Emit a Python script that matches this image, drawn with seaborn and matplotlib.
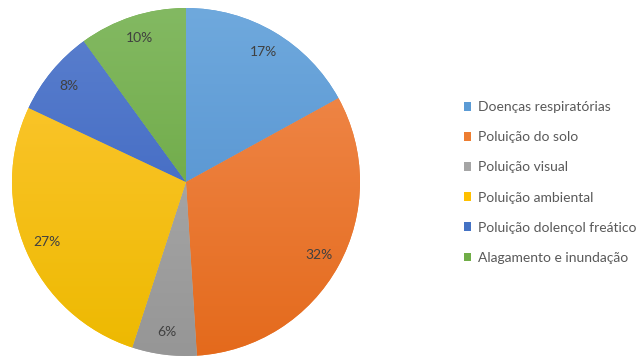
import numpy as np
import matplotlib
matplotlib.use("Agg")
import matplotlib.pyplot as plt
from matplotlib.patches import Patch
from matplotlib.colors import LinearSegmentedColormap
import seaborn as sns

categories = [
    "Doenças respiratórias",
    "Poluição do solo",
    "Poluição visual",
    "Poluição ambiental",
    "Poluição dolençol freático",
    "Alagamento e inundação",
]
shares = [17, 32, 6, 27, 8, 10]
base_colors = ["#5B9BD5", "#ED7D31", "#A5A5A5", "#FFC000", "#4472C4", "#70AD47"]
top_colors = ["#6FA9DD", "#F28D52", "#B2B2B2", "#FFC838", "#5B80CE", "#83B962"]
bottom_colors = ["#4A89CB", "#E46A1C", "#969696", "#EDB900", "#355FBE", "#62A136"]

sns.set_style("white")
plt.rcParams["font.family"] = ["Lato", "DejaVu Sans"]

fig = plt.figure(figsize=(6.44, 3.59), dpi=100)
ax = fig.add_axes([186 / 644 - 174 / 644, 177 / 359 - 174 / 359, 348 / 644, 348 / 359])

palette = sns.color_palette(base_colors)
wedges, texts, autotexts = ax.pie(
    shares,
    colors=palette,
    startangle=90,
    counterclock=False,
    autopct=lambda p: f"{p:.0f}%",
    pctdistance=0.87,
    wedgeprops=dict(linewidth=0),
    textprops=dict(color="#404040", fontsize=10),
)
ax.set_xlim(-1, 1)
ax.set_ylim(-1, 1)
ax.set_aspect("equal")

# vertical shading inside each wedge, lighter at the top
grad = np.linspace(0, 1, 256).reshape(-1, 1)
for w, c0, c1 in zip(wedges, top_colors, bottom_colors):
    cmap = LinearSegmentedColormap.from_list("g", [c0, c1])
    im = ax.imshow(grad, cmap=cmap, extent=[-1, 1, -1, 1], origin="upper",
                   aspect="auto", zorder=w.get_zorder() + 0.1)
    im.set_clip_path(w)
for t in autotexts:
    t.set_zorder(5)

handles = [Patch(facecolor=c, edgecolor="none") for c in base_colors]
fig.legend(
    handles, categories,
    loc="center left",
    bbox_to_anchor=(451 / 644, 176.5 / 359),
    frameon=False,
    fontsize=10,
    labelcolor="#595959",
    handlelength=0.55,
    handleheight=0.55,
    handletextpad=0.5,
    labelspacing=1.3,
)

fig.savefig("out.png", dpi=100, facecolor="white")
